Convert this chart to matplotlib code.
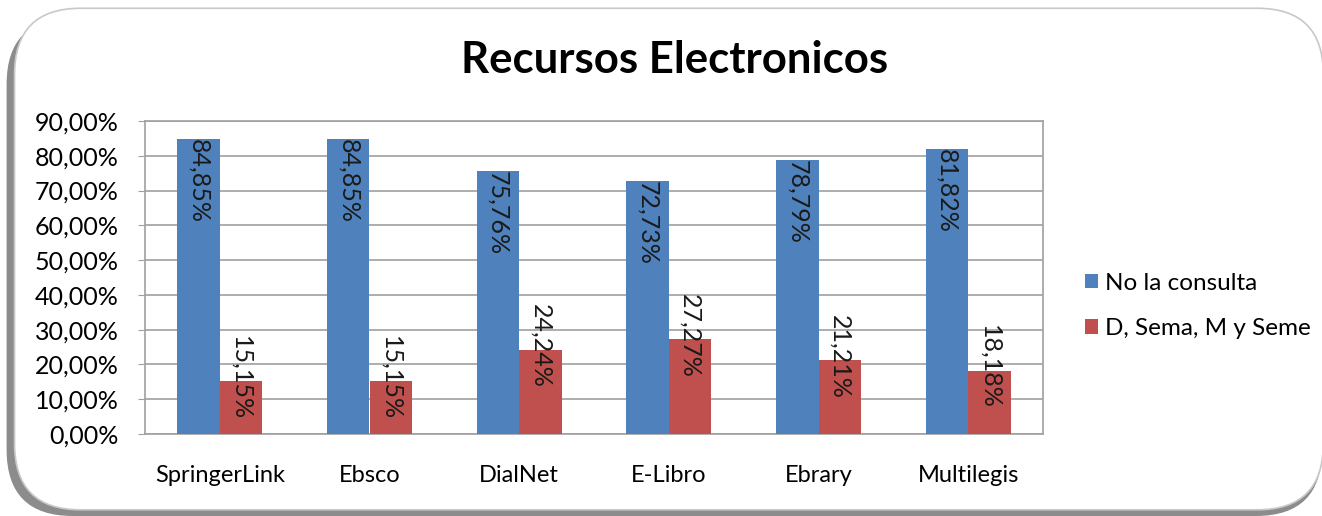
import numpy as np
import matplotlib.pyplot as plt
from matplotlib.patches import FancyBboxPatch
from matplotlib.ticker import FuncFormatter

plt.rcParams['font.family'] = ['Lato', 'DejaVu Sans']

recursos = ['SpringerLink', 'Ebsco', 'DialNet', 'E-Libro', 'Ebrary', 'Multilegis']
no_consulta = [84.85, 84.85, 75.76, 72.73, 78.79, 81.82]
d_sema = [15.15, 15.15, 24.24, 27.27, 21.21, 18.18]
series_names = ['No la consulta', 'D, Sema, M y Seme']
azul = '#4F81BD'
rojo = '#C0504D'

fig = plt.figure(figsize=(13.22, 5.16), dpi=100)

# rounded frame with shadow
shadow = FancyBboxPatch((0.005, 0.0), 0.995, 0.965, boxstyle='round,pad=0,rounding_size=0.05',
                        transform=fig.transFigure, facecolor='#8c8c8c', edgecolor='none',
                        mutation_aspect=1322/516, zorder=0)
frame = FancyBboxPatch((0.011, 0.012), 0.99, 0.972, boxstyle='round,pad=0,rounding_size=0.05',
                       transform=fig.transFigure, facecolor='white', edgecolor='#c8c8c8',
                       linewidth=1.2, mutation_aspect=1322/516, zorder=1)
fig.patches.extend([shadow, frame])

ax = fig.add_axes([145/1322, 1 - 434/516, (1043 - 145)/1322, (434 - 121)/516])
ax.set_zorder(2)
ax.patch.set_alpha(0)

x = np.arange(len(recursos))
w = 0.285
b1 = ax.bar(x - w/2, no_consulta, w, color=azul, label=series_names[0], zorder=3)
b2 = ax.bar(x + w/2, d_sema, w, color=rojo, label=series_names[1], zorder=3)

def fmt(v):
    return ('%.2f%%' % v).replace('.', ',')

for xi, v in zip(x, no_consulta):
    ax.text(xi - w/2, v, fmt(v), rotation=-90, ha='center', va='top',
            fontsize=18, color='#1a1a1a', zorder=4)
for xi, v in zip(x, d_sema):
    ax.text(xi + w/2, v + 1, fmt(v), rotation=-90, ha='center', va='center',
            fontsize=18, color='#1a1a1a', zorder=4)

ax.set_xlim(-0.5, len(recursos) - 0.5)
ax.set_ylim(0, 90)
ax.set_yticks(np.arange(0, 91, 10))
ax.yaxis.set_major_formatter(FuncFormatter(lambda v, p: fmt(v)))
ax.set_xticks(x)
ax.set_xticklabels(recursos)
ax.grid(axis='y', color='#a0a0a0', linewidth=1.2, zorder=1)
for s in ax.spines.values():
    s.set_color('#a0a0a0')
    s.set_linewidth(1.2)
ax.tick_params(axis='y', labelsize=18, length=5, color='#a0a0a0', pad=14)
ax.tick_params(axis='x', labelsize=17, length=0, pad=22)

fig.text(675/1322, 1 - 60/516, 'Recursos Electronicos', ha='center', va='center',
         fontsize=31.5, fontweight='bold', zorder=3)

leg = ax.legend(loc='upper left', bbox_to_anchor=(1.022, 0.585), frameon=False,
                fontsize=17.5, handlelength=0.55, handleheight=0.55, handletextpad=0.3,
                labelspacing=1.0)

fig.savefig('out.png', dpi=100)
